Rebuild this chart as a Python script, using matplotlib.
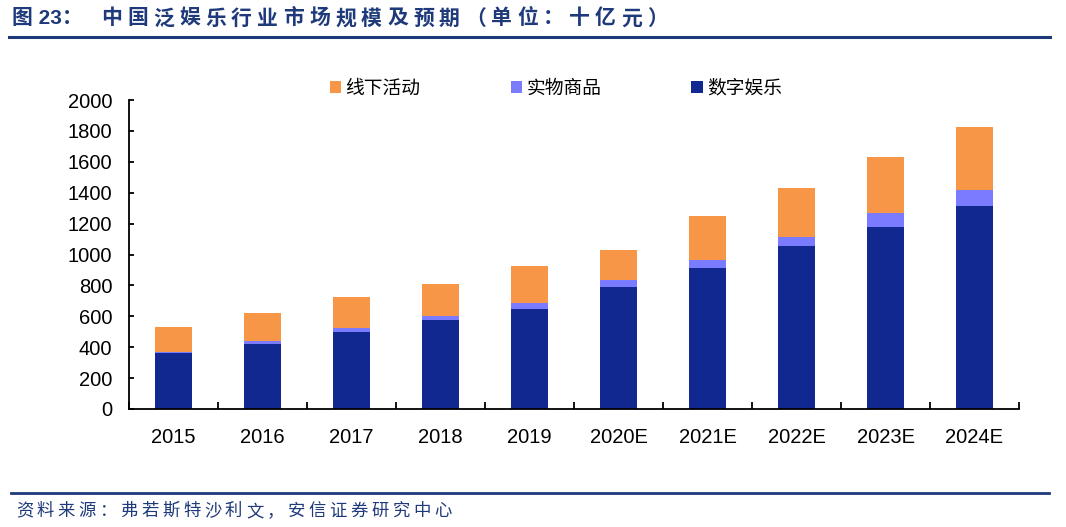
import matplotlib
matplotlib.use("Agg")
import matplotlib.pyplot as plt
from matplotlib.lines import Line2D
from matplotlib.patches import Patch
import numpy as np

plt.rcParams['font.family'] = ['Liberation Sans', 'Noto Sans CJK SC', 'DejaVu Sans']

categories = ["2015", "2016", "2017", "2018", "2019", "2020E", "2021E", "2022E", "2023E", "2024E"]
digital = [360, 422, 498, 573, 647, 788, 913, 1052, 1177, 1316]
physical = [12, 15, 26, 27, 39, 50, 50, 63, 89, 102]
offline = [160, 186, 199, 212, 238, 188, 288, 314, 366, 405]
series_names = ["线下活动", "实物商品", "数字娱乐"]
yticks = [0, 200, 400, 600, 800, 1000, 1200, 1400, 1600, 1800, 2000]

title_label = "图 23："
title_body = "中国泛娱乐行业市场规模及预期（单位：十亿元）"
source = "资料来源：弗若斯特沙利文，安信证券研究中心"

c_off = "#F79646"
c_phys = "#7B7BFF"
c_dig = "#10288F"
c_dark = "#1F3A7A"

W, H = 1066, 527
fig = plt.figure(figsize=(W / 100, H / 100), dpi=100)
ax = fig.add_axes([129 / W, 1 - 409 / H, (1019 - 129) / W, (409 - 100) / H])

x = np.arange(len(categories))
bw = 0.41
d = np.array(digital)
p = np.array(physical)
o = np.array(offline)
ax.bar(x, d, bw, color=c_dig, zorder=2)
ax.bar(x, p, bw, bottom=d, color=c_phys, zorder=2)
ax.bar(x, o, bw, bottom=d + p, color=c_off, zorder=2)

ax.set_xlim(-0.5, len(categories) - 0.5)
ax.set_ylim(0, 2000)
ax.set_yticks(yticks)
ax.set_yticklabels([str(v) for v in yticks], fontsize=14.5)
ax.set_xticks(x)
ax.set_xticklabels(categories, fontsize=14.5)
ax.set_xticks(np.arange(len(categories) + 1) - 0.5, minor=True)
ax.tick_params(axis='x', which='major', length=0, pad=14)
ax.tick_params(axis='x', which='minor', direction='in', length=5, width=1.3)
ax.tick_params(axis='y', direction='in', length=3.5, width=1.3, pad=12)
for s in ['top', 'right']:
    ax.spines[s].set_visible(False)
for s in ['left', 'bottom']:
    ax.spines[s].set_linewidth(1.3)

handles = [Patch(facecolor=c_off), Patch(facecolor=c_phys), Patch(facecolor=c_dig)]
fig.legend(handles, series_names, loc='center', bbox_to_anchor=(556 / W, 1 - 88 / H),
           ncol=3, frameon=False, handlelength=0.6, handleheight=0.6,
           handletextpad=0.25, columnspacing=4.8,
           prop={'family': ['Noto Sans CJK SC'], 'size': 13.5})


def spaced_text(x0, yc, s, pitch, **kw):
    for i, ch in enumerate(s):
        fig.text((x0 + i * pitch) / W, 1 - yc / H, ch, ha='left', va='center', **kw)


fig.text(12 / W, 1 - 18 / H, title_label, fontsize=15, fontweight='bold', color=c_dark,
         va='center', ha='left', family=['Liberation Sans', 'Noto Sans CJK SC'])
spaced_text(101, 18, title_body, 26, fontsize=15, fontweight='bold', color=c_dark,
            family=['Noto Sans CJK SC'])
fig.add_artist(Line2D([9 / W, 1050 / W], [1 - 36.5 / H, 1 - 36.5 / H], color=c_dark, lw=2.2))
fig.add_artist(Line2D([11 / W, 1049 / W], [1 - 493 / H, 1 - 493 / H], color=c_dark, lw=2))
spaced_text(16, 511, source, 20.9, fontsize=12.5, color=c_dark, family=['Noto Sans CJK SC'])

fig.savefig("out.png", dpi=100)
